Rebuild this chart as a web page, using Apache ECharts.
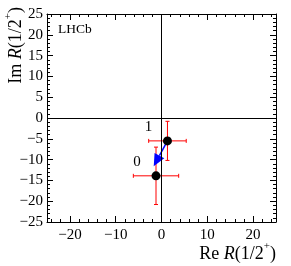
<!DOCTYPE html>
<html>
<head>
<meta charset="utf-8">
<script src="https://cdn.jsdelivr.net/npm/echarts@6/dist/echarts.min.js"></script>
<style>html,body{margin:0;padding:0;background:#fff}#c{width:291px;height:266px}</style>
</head>
<body>
<div id="c"></div>
<script>
// ---- data ----
const pointLabels = ['0', '1'];
const re = [-1.2, 1.3];
const im = [-13.9, -5.5];
const reErr = [4.95, 4.1];
const imErr = [6.9, 4.7];
const arrowFrom = [1.3, -5.5];
const arrowTo = [-1.7, -11.6];
const xTickLabels = [-20, -10, 0, 10, 20];
const xMinorTicks = [-24, -22, -18, -16, -14, -12, -8, -6, -4, -2, 2, 4, 6, 8, 12, 14, 16, 18, 22, 24];

const FONT = '"Liberation Serif", "DejaVu Serif", serif';
const fmt = v => String(v).replace('-', '\u2212');

const chart = echarts.init(document.getElementById('c'), null, {renderer: 'canvas'});

function xAxisDef(position, major, showLabel, showLine) {
  return {
    type: 'value', position: position, min: -25, max: 25,
    axisLine: {show: showLine, onZero: false, lineStyle: {color: '#000', width: 1}},
    axisTick: {show: true, inside: true, length: major ? 6 : 3, customValues: major ? xTickLabels : xMinorTicks,
      lineStyle: {color: '#000', width: 1}},
    axisLabel: {show: showLabel, customValues: xTickLabels, formatter: fmt, margin: 6,
      fontFamily: FONT, fontSize: 15, color: '#000'},
    splitLine: {show: false}
  };
}
function yAxisDef(position, showLabel) {
  return {
    type: 'value', position: position, min: -25, max: 25, interval: 5,
    axisLine: {show: true, onZero: false, lineStyle: {color: '#000', width: 1}},
    axisTick: {show: true, inside: true, length: 6, lineStyle: {color: '#000', width: 1}},
    minorTick: {show: true, splitNumber: 5, length: 3, lineStyle: {color: '#000', width: 1}},
    axisLabel: {show: showLabel, formatter: fmt, margin: 4, fontFamily: FONT, fontSize: 15, color: '#000'},
    splitLine: {show: false}, minorSplitLine: {show: false}
  };
}

const errData = re.map((v, i) => [v, im[i], reErr[i], imErr[i]]);
const ptData = re.map((v, i) => ({value: [v, im[i]], name: pointLabels[i]}));

const richTitle = {
  a: {fontFamily: FONT, fontSize: 18, lineHeight: 22, verticalAlign: 'bottom', fill: '#000'},
  i: {fontFamily: FONT, fontSize: 18, fontStyle: 'italic', lineHeight: 22, verticalAlign: 'bottom', fill: '#000'},
  s: {fontFamily: FONT, fontSize: 11, lineHeight: 11, verticalAlign: 'top', fill: '#000'}
};

const option = {
  animation: false,
  backgroundColor: '#fff',
  grid: {left: 47, right: 15, top: 14, bottom: 44, outerBoundsMode: 'none', containLabel: false},
  xAxis: [
    xAxisDef('bottom', true, true, true),
    xAxisDef('bottom', false, false, false),
    xAxisDef('top', true, false, true),
    xAxisDef('top', false, false, false)
  ],
  yAxis: [
    yAxisDef('left', true),
    yAxisDef('right', false)
  ],
  series: [
    {
      type: 'custom', z: 1, xAxisIndex: 0, yAxisIndex: 0,
      data: errData,
      renderItem: function (params, api) {
        const x = api.value(0), y = api.value(1), ex = api.value(2), ey = api.value(3);
        const l = api.coord([x - ex, y]), r = api.coord([x + ex, y]);
        const t = api.coord([x, y + ey]), b = api.coord([x, y - ey]);
        const cap = 2;
        const st = {stroke: '#ff0000', lineWidth: 1};
        const ln = (x1, y1, x2, y2) => ({type: 'line', shape: {x1, y1, x2, y2}, style: st});
        return {type: 'group', children: [
          ln(l[0], l[1], r[0], r[1]),
          ln(t[0], t[1], b[0], b[1]),
          ln(l[0], l[1] - cap, l[0], l[1] + cap),
          ln(r[0], r[1] - cap, r[0], r[1] + cap),
          ln(t[0] - cap, t[1], t[0] + cap, t[1]),
          ln(b[0] - cap, b[1], b[0] + cap, b[1])
        ]};
      },
      markLine: {
        silent: true, symbol: 'none', animation: false,
        label: {show: false},
        lineStyle: {color: '#000', width: 1, type: 'solid', opacity: 1},
        emphasis: {disabled: true},
        data: [{xAxis: 0}, {yAxis: 0}]
      }
    },
    {
      type: 'custom', z: 2, xAxisIndex: 0, yAxisIndex: 0,
      data: [[arrowFrom[0], arrowFrom[1], arrowTo[0], arrowTo[1]]],
      renderItem: function (params, api) {
        const p0 = api.coord([api.value(0), api.value(1)]);
        const p1 = api.coord([api.value(2), api.value(3)]);
        const dx = p1[0] - p0[0], dy = p1[1] - p0[1];
        const L = Math.sqrt(dx * dx + dy * dy);
        const ux = dx / L, uy = dy / L;
        const hl = 12, hw = 5.5;
        const bx = p1[0] - ux * hl, by = p1[1] - uy * hl;
        return {type: 'group', children: [
          {type: 'line', shape: {x1: p0[0], y1: p0[1], x2: bx, y2: by}, style: {stroke: '#0000ff', lineWidth: 1.5}},
          {type: 'polygon', shape: {points: [[p1[0], p1[1]], [bx - uy * hw, by + ux * hw], [bx + uy * hw, by - ux * hw]]},
            style: {fill: '#0000ff'}}
        ]};
      }
    },
    {
      type: 'scatter', z: 3, xAxisIndex: 0, yAxisIndex: 0,
      symbol: 'circle', symbolSize: 9,
      itemStyle: {color: '#000', opacity: 1},
      emphasis: {disabled: true},
      data: ptData,
      label: {show: true, position: 'inside', offset: [-19, -14], formatter: p => p.name,
        fontFamily: FONT, fontSize: 15, color: '#000'}
    }
  ],
  graphic: [
    {type: 'text', x: 58, y: 29, style: {text: 'LHCb', font: '13.5px ' + FONT, fill: '#000',
      align: 'left', verticalAlign: 'middle'}},
    {type: 'text', x: 14, y: 7, rotation: Math.PI / 2,
      style: {text: '{a|Im }{i|R}{a|(1/2}{s|+}{a|)}', align: 'right', verticalAlign: 'middle', fill: '#000',
        font: '18px ' + FONT, rich: richTitle}},
    {type: 'text', x: 276, y: 252,
      style: {text: '{a|Re }{i|R}{a|(1/2}{s|+}{a|)}', align: 'right', verticalAlign: 'middle', fill: '#000',
        font: '18px ' + FONT, rich: richTitle}}
  ]
};
chart.setOption(option);
</script>
</body>
</html>
